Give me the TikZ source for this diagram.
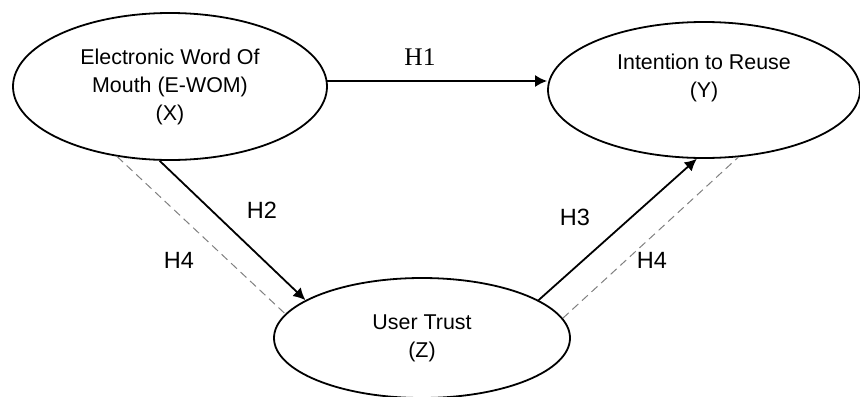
\documentclass[tikz,border=0pt]{standalone}
\usepackage{fontspec}
\setmainfont{Liberation Sans}
\newfontfamily\hserif{Liberation Serif}
\usetikzlibrary{arrows.meta,shapes.geometric,positioning}
\tikzset{%
	construct/.style = {draw, ellipse, line width=0.9pt, inner sep=0pt, align=center, font=\fontsize{10.7}{14}\selectfont}, % Variable
	effect/.style    = {line width=0.9pt, -{Latex[length=6pt,width=6pt]}}, % Direct path
	mediation/.style = {draw=gray, line width=0.5pt, dash pattern=on 4pt off 2.5pt}, % Indirect path
	hyp/.style       = {inner sep=0pt, font=\fontsize{11.75}{14}\selectfont}, % Hypothesis label
}
\begin{document}
\begin{tikzpicture}[x=0.5pt,y=-0.5pt]
	\useasboundingbox (0,0) rectangle (860,396);
	\node [construct,minimum width=157pt,minimum height=73.5pt] (x) at (170,86.5) {Electronic Word Of\\Mouth (E-WOM)\\(X)};
	\node [construct,minimum width=156pt,minimum height=68pt] (y) at (704,90) {Intention to Reuse\\(Y)\\\mbox{}};
	\node [construct,minimum width=148pt,minimum height=60pt] (z) at (422,338) {User Trust\\(Z)};
	
	\draw [effect] (x.2) -- (x.2 -| y.west);
	\draw [effect] (x.262) -- (z.162);
	\draw [effect] (z.18) -- (y.264);
	\draw [mediation] (x.233) -- (z.170);
	\draw [mediation] (z.8) -- (y.297);
	
	\node [hyp,font=\fontsize{12.7}{14}\hserif] (h1) at (420,57) {H1};
	\node [hyp] (h2) at (262,210) {H2};
	\node [hyp] (h3) at (575,217) {H3};
	\node [hyp] (h4x) at (179,260) {H4};
	\node [hyp] (h4y) at (652,260) {H4};
\end{tikzpicture}
\end{document}
